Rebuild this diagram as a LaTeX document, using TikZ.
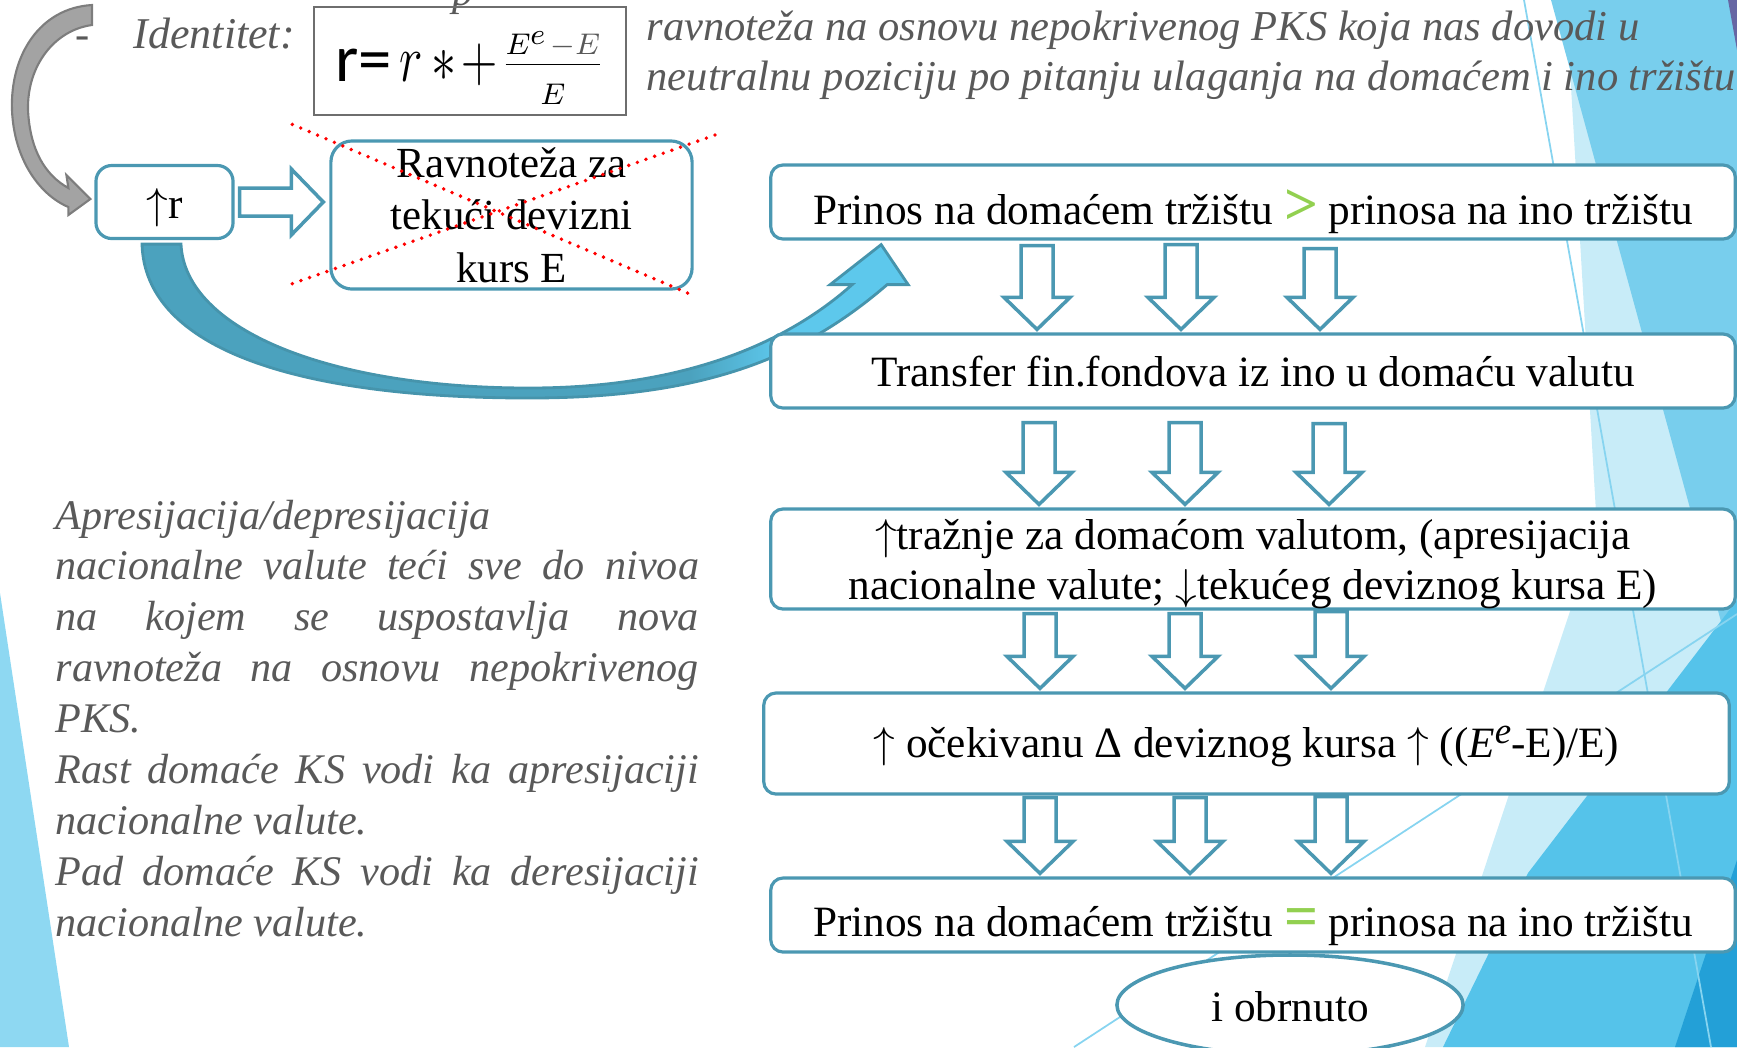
\RequirePackage{fix-cm}
\documentclass[tikz,border=0pt]{standalone}
\usepackage{fontspec}
\setmainfont{Liberation Serif}
\newfontfamily\carlito{Carlito}
\usepackage{graphicx}
\usetikzlibrary{calc,shapes.geometric}

\definecolor{boxline}{RGB}{75,152,178}
\definecolor{arcdark}{RGB}{75,162,190}
\definecolor{arclight}{RGB}{93,200,236}
\definecolor{arcedge}{RGB}{70,148,172}
\definecolor{arrgray}{RGB}{163,163,163}
\definecolor{arrgrayedge}{RGB}{125,125,125}
\definecolor{txtgray}{RGB}{89,89,89}
\definecolor{formgray}{RGB}{110,110,110}
\definecolor{fgreen}{RGB}{146,208,80}
\definecolor{bgstrip}{RGB}{142,216,242}
\definecolor{bgpale}{RGB}{200,236,248}
\definecolor{bgmid}{RGB}{120,206,237}
\definecolor{bgblue}{RGB}{85,195,234}
\definecolor{bgdeep}{RGB}{35,160,215}
\definecolor{bgline}{RGB}{135,212,240}

\newcommand\boxfont{\fontsize{12.3}{14.2}\selectfont}
\newcommand\greyfont{\fontsize{12.1}{14.5}\selectfont\itshape}
\newcommand\greensign[1]{{\fontsize{17}{17}\selectfont\bfseries\color{fgreen}#1}}
\newcommand\up{$\uparrow$}
\newcommand\down{$\downarrow$}
\newcommand\fracpart[1]{\mbox{\fontsize{8.5}{9}\selectfont$#1$}}

% hollow arrow pointing down: x, upper box, lower box, gap under upper box
\newcommand\blockdown[4]{%
  \path (#1,0 |- #2.south) coordinate (bt) (#1,0 |- #3.north) coordinate (bh);
  \draw[blockarr] ($(bt)+(-16,#4)$) -- ($(bh)+(-16,-35)$) -- ($(bh)+(-33,-35)$) -- ($(bh)+(0,-3)$)
    -- ($(bh)+(33,-35)$) -- ($(bh)+(16,-35)$) -- ($(bt)+(16,#4)$) -- cycle;}

% the curved arrow from r up to the first box
\newcommand\bluearcpath{(arcA) .. controls (145,350) and (300,398) .. (529,398)
  .. controls (700,398) and (800,360) .. ($(arcTip)+(6,40)$) -- ($(arcTip)+(27,40)$) -- (arcTip)
  -- ($(arcTip)+(-51,40)$) -- ($(arcTip)+(-29,40)$) .. controls (790,340) and (690,388) .. (529,388)
  .. controls (330,388) and (185,330) .. (arcB) -- cycle}

\begin{document}
\begin{tikzpicture}[x=0.01cm,y=-0.01cm,
    box/.style={draw=boxline,line width=0.9pt,fill=white,rounded corners=3.5pt,inner sep=0pt,font=\boxfont},
    onerow/.style={text height=#1,text depth=1pt},
    blockarr/.style={draw=boxline,line width=1pt,fill=white,line join=miter},
    crossout/.style={red,line width=1.1pt,line cap=round,dash pattern=on 0pt off 2.6pt},
    greytxt/.style={font=\greyfont,text=txtgray,inner sep=0pt,anchor=base west}]
\useasboundingbox (0,0) rectangle (1737,1047);

% background
\fill[bgstrip] (0,593) -- (69,1047) -- (0,1047) -- cycle;
\fill[bgpale] (1570,70) -- (1737,70) -- (1737,1047) -- (1425,1047) -- (1597,530) -- cycle;
\fill[bgmid] (1551,0) -- (1737,0) -- (1737,680) -- cycle;
\fill[bgblue] (1737,600) -- (1528,873) -- (1443,1047) -- (1737,1047) -- cycle;
\fill[bgdeep] (1737,860) -- (1737,1047) -- (1675,1047) -- cycle;
\fill[black!60!blue!60] (1728,0) -- (1737,0) -- (1737,50) -- cycle;
\draw[bgline,line width=0.5pt] (1524,0) -- (1711,1047);
\draw[bgline,line width=0.5pt] (1737,614) -- (1074,1047);

% header
\node[greytxt] (ptop) at (452,5) {p};
\node[greytxt] (dash) at (75,48) {-};
\node[greytxt,font=\fontsize{12.5}{14}\selectfont\itshape] (ident) at (133,48) {Identitet:};
\node[draw=formgray,line width=0.6pt,minimum width=3.12cm,minimum height=1.08cm,inner sep=0pt,
  text height=17.7pt,text depth=6.3pt] (formula) at (470,61)
  {\fontsize{19}{19}\selectfont{\carlito r=}\hspace{2pt}\scalebox{0.75}[1]{$r\mkern3mu{\ast}\mkern2mu{+}$}\hspace{1pt}%
   $\frac{\fracpart{E^{\textstyle e}\mkern2mu{\color{txtgray}{-}E}}}{\fracpart{E}}$};
\node[greytxt] (topA) at (646,40) {ravnoteža na osnovu nepokrivenog PKS koja nas dovodi u};
\node[greytxt] (topB) at (646,90) {neutralnu poziciju po pitanju ulaganja na domaćem i ino tržištu};

% nodes
\node[box,minimum width=1.37cm,minimum height=0.73cm,rounded corners=4.5pt,onerow=10.6pt] (rup) at (164.5,202) {\up r};
\node[box,minimum width=3.61cm,minimum height=1.48cm,rounded corners=6pt,align=center,text depth=0pt,
  font=\fontsize{12.2}{15}\selectfont] (ravn) at (511.5,215) {Ravnoteža za\\tekući devizni\\kurs E};
\node[box,minimum width=9.64cm,minimum height=0.74cm,onerow=14pt] (prinos1) at (1253,202)
  {Prinos na domaćem tržištu \greensign{>} prinosa na ino tržištu};

% gray arrow into r
\path ($(rup.west)+(-4,-3)$) coordinate (gTip) (92,5) coordinate (gTop);
\filldraw[fill=arrgray,draw=arrgrayedge,line width=0.6pt] (gTop) .. controls (40,8) and (10,55) .. (12,110)
  .. controls (14,160) and (40,195) .. ($(gTip)+(-22,8)$) -- ($(gTip)+(-22,16)$) -- (gTip)
  -- ($(gTip)+(-24,-24)$) -- ($(gTip)+(-22,-11)$) .. controls (45,175) and (30,150) .. (28,110)
  .. controls (27,65) and (55,30) .. ($(gTop)+(0,20)$) -- cycle;

% r -> ravnoteza
\path ($(rup.east)+(5,0)$) coordinate (rt) ($(ravn.west |- rup.east)+(-6,0)$) coordinate (rh);
\draw[blockarr] ($(rt)+(0,-14)$) -- ($(rh)+(-32,-14)$) -- ($(rh)+(-32,-33)$) -- (rh)
  -- ($(rh)+(-32,33)$) -- ($(rh)+(-32,14)$) -- ($(rt)+(0,14)$) -- cycle;
\draw[crossout] ($(ravn.north west)+(-37,-15)$) -- ($(ravn.south east)+(0,5)$);
\draw[crossout] ($(ravn.south west)+(-37,-7)$) -- ($(ravn.north east)+(26,-6)$);

% r -> prinos
\path ($(rup.south)+(-22.5,4)$) coordinate (arcA) ($(rup.south)+(16.5,4)$) coordinate (arcB)
  ($(prinos1.south west)+(112,4)$) coordinate (arcTip);
\fill[arcdark] \bluearcpath;
\begin{scope}
  \clip \bluearcpath;
  \shade[left color=arcdark,right color=arclight] (690,230) rectangle (780,420);
  \fill[arclight] (780,230) rectangle (940,420);
\end{scope}
\draw[arcedge,line width=0.8pt] \bluearcpath;

\node[box,minimum width=9.64cm,minimum height=0.74cm,onerow=10pt] (transfer) at (1253,371)
  {Transfer fin.fondova iz ino u domaću valutu};
\node[box,minimum width=9.64cm,minimum height=1.0cm,align=center,text depth=0pt] (traznje) at (1253,559)
  {\up tražnje za domaćom valutom, (apresijacija\\nacionalne valute; \down tekućeg deviznog kursa E)};
\node[box,minimum width=9.65cm,minimum height=1.01cm,onerow=9.2pt] (ocek) at (1246.5,743.5)
  {\up{} očekivanu Δ deviznog kursa \up{} ((\textit{E}\raisebox{0.75ex}{\fontsize{10.5}{11}\selectfont\textit{e}}-E)/E)};
\node[box,minimum width=9.64cm,minimum height=0.74cm,onerow=13.4pt] (prinos2) at (1253,915)
  {Prinos na domaćem tržištu \greensign{=} prinosa na ino tržištu};
\node[draw=boxline,line width=1pt,fill=white,ellipse,minimum width=3.46cm,minimum height=1.0cm,
  inner sep=0pt,font=\boxfont,onerow=10.6pt] (obrnuto) at (1290,1005) {i obrnuto};

\blockdown{1037}{prinos1}{transfer}{5}
\blockdown{1181}{prinos1}{transfer}{4}
\blockdown{1320}{prinos1}{transfer}{8}
\blockdown{1039}{transfer}{traznje}{13}
\blockdown{1185}{transfer}{traznje}{13}
\blockdown{1329}{transfer}{traznje}{14}
\blockdown{1040}{traznje}{ocek}{3}
\blockdown{1185}{traznje}{ocek}{3}
\blockdown{1331}{traznje}{ocek}{1}
\blockdown{1040}{ocek}{prinos2}{2}
\blockdown{1190}{ocek}{prinos2}{2}
\blockdown{1331}{ocek}{prinos2}{1}

% left note
\node[anchor=north west,text width=6.43cm,inner sep=0pt,align=justify,text=txtgray,
  font={\fontsize{12}{14.5}\selectfont\itshape\parindent=0pt\hyphenpenalty=10000\tolerance=10000}] (apres) at (55,499)
  {Apresijacija/depresijacija\newline nacionalne valute teći sve do nivoa\linebreak
   na kojem se uspostavlja nova\linebreak ravnoteža na osnovu nepokrivenog\linebreak PKS.\par
   Rast domaće KS vodi ka apresijaciji\linebreak nacionalne valute.\par
   Pad domaće KS vodi ka deresijaciji\linebreak nacionalne valute.};
\end{tikzpicture}
\end{document}
